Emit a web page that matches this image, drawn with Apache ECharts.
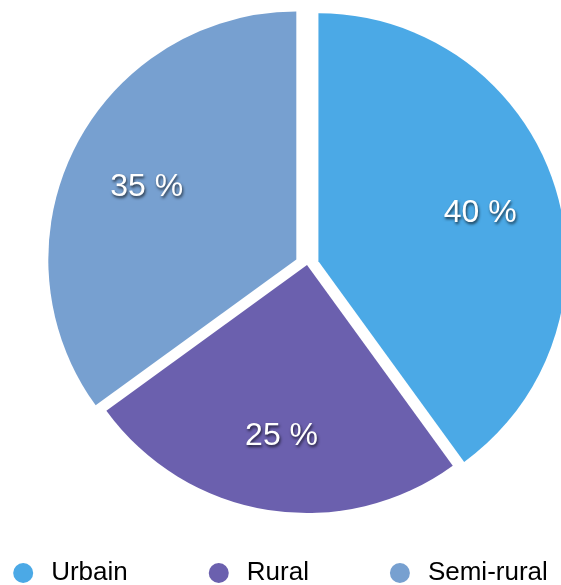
<!DOCTYPE html>
<html>
<head>
<meta charset="utf-8">
<script src="https://cdn.jsdelivr.net/npm/echarts@6/dist/echarts.min.js"></script>
<style>
html,body{margin:0;padding:0;background:#fff;}
#chart{width:561px;height:585px;}
</style>
</head>
<body>
<div id="chart"></div>
<script>
const categories = ['Urbain', 'Rural', 'Semi-rural'];
const values = [40, 25, 35];
const exploded = [true, false, true];
const colors = ['#4BA9E6', '#6B60AE', '#77A0D0'];

const chart = echarts.init(document.getElementById('chart'), null, {renderer: 'canvas'});
const font = "'Liberation Sans', Arial, Helvetica, sans-serif";

const mkData = (transparent) => categories.map((n, i) => ({
  name: n,
  value: values[i],
  selected: exploded[i],
  itemStyle: {color: transparent ? 'rgba(0,0,0,0)' : colors[i]}
}));

chart.setOption({
  animation: false,
  legend: {
    data: categories,
    bottom: -6,
    left: 'center',
    icon: 'circle',
    itemWidth: 20,
    itemHeight: 20,
    itemGap: 81,
    selectedMode: false,
    textStyle: {fontFamily: font, fontSize: 26, color: '#000', padding: [0, 0, 0, 13]}
  },
  series: [
    {
      type: 'pie',
      center: [307, 265],
      radius: [0, 248],
      startAngle: 90,
      clockwise: true,
      selectedMode: 'multiple',
      selectedOffset: 12,
      silent: true,
      label: {show: false},
      labelLine: {show: false},
      select: {itemStyle: {}},
      emphasis: {disabled: true},
      data: mkData(false)
    },
    {
      type: 'pie',
      center: [308, 269],
      radius: [84, 248],
      startAngle: 90,
      clockwise: true,
      selectedMode: 'multiple',
      selectedOffset: 12,
      silent: true,
      labelLine: {show: false},
      emphasis: {disabled: true},
      label: {
        show: true,
        position: 'inner',
        formatter: '{c} %',
        color: '#fff',
        fontFamily: font,
        fontSize: 32,
        textShadowColor: 'rgba(0,0,0,0.7)',
        textShadowBlur: 3,
        textShadowOffsetX: 1,
        textShadowOffsetY: 2
      },
      data: mkData(true)
    }
  ]
});
</script>
</body>
</html>
